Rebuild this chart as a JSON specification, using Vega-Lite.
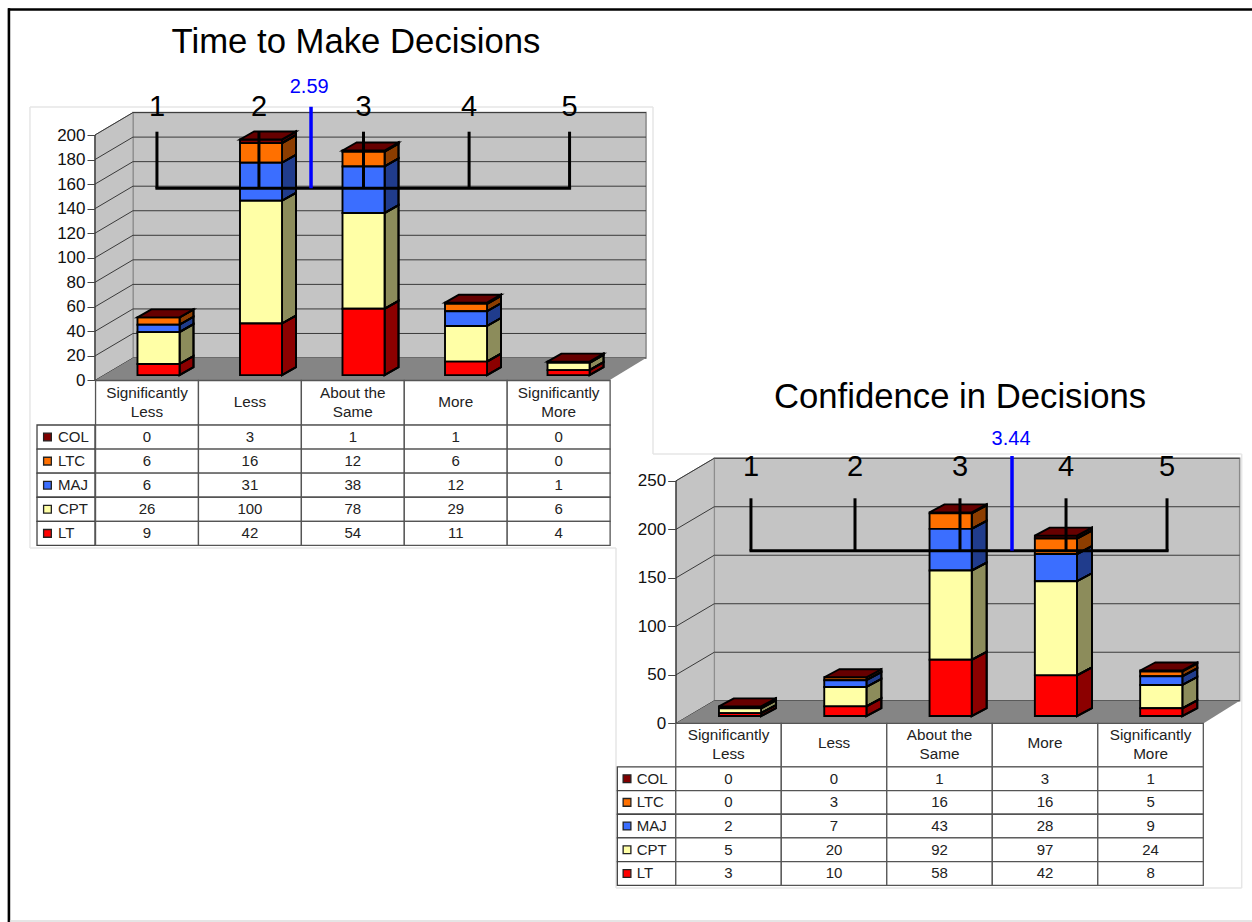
{"$schema":"https://vega.github.io/schema/vega-lite/v6.json","background":"#ffffff","padding":{"left":6,"top":0,"right":0,"bottom":0},"bounds":"flush","spacing":0,
"data":{"values":[{"one":1}]},
"config":{"font":"Liberation Sans","view":{"stroke":null},"axisX":{"disable":true},"axis":{"grid":false,"domain":false,"ticks":false,"labels":false,"titleOpacity":0},"legend":{"disable":true}},
"datasets":{
"depth":[{"t":0},{"t":1}],
"ticksA":[{"v":0},{"v":20},{"v":40},{"v":60},{"v":80},{"v":100},{"v":120},{"v":140},{"v":160},{"v":180},{"v":200}],
"ticksB":[{"v":0},{"v":50},{"v":100},{"v":150},{"v":200},{"v":250}],
"scaleA":[{"label":"1","at":0.985},{"label":"2","at":1.98},{"label":"3","at":3.0},{"label":"4","at":4.03},{"label":"5","at":5.01}],
"scaleB":[{"label":"1","at":1.104},{"label":"2","at":2.092},{"label":"3","at":3.089},{"label":"4","at":4.096},{"label":"5","at":5.055}],
"time":[
{"series":"COL","idx":1,"cat":"Significantly\nLess","value":0},{"series":"COL","idx":2,"cat":"Less","value":3},{"series":"COL","idx":3,"cat":"About the\nSame","value":1},{"series":"COL","idx":4,"cat":"More","value":1},{"series":"COL","idx":5,"cat":"Significantly\nMore","value":0},
{"series":"LTC","idx":1,"cat":"Significantly\nLess","value":6},{"series":"LTC","idx":2,"cat":"Less","value":16},{"series":"LTC","idx":3,"cat":"About the\nSame","value":12},{"series":"LTC","idx":4,"cat":"More","value":6},{"series":"LTC","idx":5,"cat":"Significantly\nMore","value":0},
{"series":"MAJ","idx":1,"cat":"Significantly\nLess","value":6},{"series":"MAJ","idx":2,"cat":"Less","value":31},{"series":"MAJ","idx":3,"cat":"About the\nSame","value":38},{"series":"MAJ","idx":4,"cat":"More","value":12},{"series":"MAJ","idx":5,"cat":"Significantly\nMore","value":1},
{"series":"CPT","idx":1,"cat":"Significantly\nLess","value":26},{"series":"CPT","idx":2,"cat":"Less","value":100},{"series":"CPT","idx":3,"cat":"About the\nSame","value":78},{"series":"CPT","idx":4,"cat":"More","value":29},{"series":"CPT","idx":5,"cat":"Significantly\nMore","value":6},
{"series":"LT","idx":1,"cat":"Significantly\nLess","value":9},{"series":"LT","idx":2,"cat":"Less","value":42},{"series":"LT","idx":3,"cat":"About the\nSame","value":54},{"series":"LT","idx":4,"cat":"More","value":11},{"series":"LT","idx":5,"cat":"Significantly\nMore","value":4}],
"conf":[
{"series":"COL","idx":1,"cat":"Significantly\nLess","value":0},{"series":"COL","idx":2,"cat":"Less","value":0},{"series":"COL","idx":3,"cat":"About the\nSame","value":1},{"series":"COL","idx":4,"cat":"More","value":3},{"series":"COL","idx":5,"cat":"Significantly\nMore","value":1},
{"series":"LTC","idx":1,"cat":"Significantly\nLess","value":0},{"series":"LTC","idx":2,"cat":"Less","value":3},{"series":"LTC","idx":3,"cat":"About the\nSame","value":16},{"series":"LTC","idx":4,"cat":"More","value":16},{"series":"LTC","idx":5,"cat":"Significantly\nMore","value":5},
{"series":"MAJ","idx":1,"cat":"Significantly\nLess","value":2},{"series":"MAJ","idx":2,"cat":"Less","value":7},{"series":"MAJ","idx":3,"cat":"About the\nSame","value":43},{"series":"MAJ","idx":4,"cat":"More","value":28},{"series":"MAJ","idx":5,"cat":"Significantly\nMore","value":9},
{"series":"CPT","idx":1,"cat":"Significantly\nLess","value":5},{"series":"CPT","idx":2,"cat":"Less","value":20},{"series":"CPT","idx":3,"cat":"About the\nSame","value":92},{"series":"CPT","idx":4,"cat":"More","value":97},{"series":"CPT","idx":5,"cat":"Significantly\nMore","value":24},
{"series":"LT","idx":1,"cat":"Significantly\nLess","value":3},{"series":"LT","idx":2,"cat":"Less","value":10},{"series":"LT","idx":3,"cat":"About the\nSame","value":58},{"series":"LT","idx":4,"cat":"More","value":42},{"series":"LT","idx":5,"cat":"Significantly\nMore","value":8}]
},
"hconcat":[
{"width":608,"height":922,
"title":{"text":"Time to Make Decisions","fontSize":34.7,"fontWeight":"normal","color":"#000000","anchor":"middle","frame":"group","offset":-88,"dx":44,"baseline":"alphabetic"},
"layer":[
{"mark":{"type":"rule","stroke":"#000000","strokeWidth":2.6},"encoding":{"x":{"datum":-0.468,"type":"quantitative","scale":{"domain":[-0.468,5.463],"nice":false,"zero":false}},"x2":{"datum":5.463},"y":{"datum":302.2,"type":"quantitative","scale":{"domain":[-441.2,310],"nice":false,"zero":false}}}},
{"mark":{"type":"rule","stroke":"#000000","strokeWidth":2.6},"encoding":{"x":{"datum":-0.459,"type":"quantitative"},"y":{"datum":303.2,"type":"quantitative"},"y2":{"datum":-441.2}}},
{"mark":{"type":"rule","stroke":"#dddddd","strokeWidth":1.5},"encoding":{"x":{"datum":-0.45,"type":"quantitative"},"x2":{"datum":5.463},"y":{"datum":-440.3,"type":"quantitative"}}},
{"mark":{"type":"rule","stroke":"#e6e6e6","strokeWidth":1.5},"encoding":{"x":{"datum":-0.2537,"type":"quantitative"},"y":{"datum":222.8,"type":"quantitative"},"y2":{"datum":-136.5}}},
{"mark":{"type":"rule","stroke":"#e6e6e6","strokeWidth":1.5},"encoding":{"x":{"datum":-0.2537,"type":"quantitative"},"x2":{"datum":5.824},"y":{"datum":222.8,"type":"quantitative"}}},
{"mark":{"type":"rule","stroke":"#e6e6e6","strokeWidth":1.5},"encoding":{"x":{"datum":5.824,"type":"quantitative"},"y":{"datum":222.8,"type":"quantitative"},"y2":{"datum":-59.9}}},
{"mark":{"type":"rule","stroke":"#e6e6e6","strokeWidth":1.5},"encoding":{"x":{"datum":-0.2537,"type":"quantitative"},"x2":{"datum":5.463},"y":{"datum":-136.5,"type":"quantitative"}}},
{"mark":{"type":"rect","fill":"#c4c4c4","stroke":"#8a8a8a","strokeWidth":1.5},"encoding":{"x":{"datum":0.7512,"type":"quantitative"},"x2":{"datum":5.756},"y":{"datum":18.3,"type":"quantitative"},"y2":{"datum":218.3}}},
{"data":{"name":"depth"},"transform":[{"calculate":"0.3805+datum.t*0.371","as":"wx"},{"calculate":"datum.t*18.3","as":"wy"},{"calculate":"200+datum.t*18.3","as":"wy2"}],"mark":{"type":"area","orient":"vertical","fill":"#c4c4c4","stroke":"#8a8a8a","strokeWidth":1},"encoding":{"x":{"field":"wx","type":"quantitative"},"y":{"field":"wy","type":"quantitative"},"y2":{"field":"wy2"}}},
{"data":{"name":"ticksA"},"transform":[{"calculate":"datum.v+18.3","as":"vb"}],"mark":{"type":"rule","stroke":"#3a3a3a","strokeWidth":1},"encoding":{"x":{"datum":0.7512,"type":"quantitative"},"x2":{"datum":5.756},"y":{"field":"vb","type":"quantitative"}}},
{"data":{"name":"ticksA"},"transform":[{"calculate":"datum.v+18.3","as":"vb"}],"mark":{"type":"rule","stroke":"#3a3a3a","strokeWidth":1},"encoding":{"x":{"datum":0.3805,"type":"quantitative"},"x2":{"datum":0.7512},"y":{"field":"v","type":"quantitative","axis":{"orient":"left","values":[0,20,40,60,80,100,120,140,160,180,200],"title":null,"grid":false,"domain":false,"ticks":true,"labels":true,"offset":-87,"tickSize":8,"tickColor":"#444444","labelFontSize":17,"labelColor":"#111111","labelPadding":2,"labelOverlap":false,"labelBound":false,"labelFlush":false}},"y2":{"field":"vb"}}},
{"data":{"name":"depth"},"transform":[{"calculate":"datum.t*18.3","as":"fy"},{"calculate":"0.3805+datum.t*0.371","as":"fx"},{"calculate":"5.395+datum.t*0.361","as":"fx2"}],"mark":{"type":"area","orient":"horizontal","fill":"#858585"},"encoding":{"y":{"field":"fy","type":"quantitative"},"x":{"field":"fx","type":"quantitative"},"x2":{"field":"fx2"}}},
{"mark":{"type":"rule","stroke":"#333333","strokeWidth":1.3},"encoding":{"x":{"datum":0.3805,"type":"quantitative"},"y":{"datum":0,"type":"quantitative"},"y2":{"datum":200}}},
{"data":{"name":"time"},"transform":[{"calculate":"indexof(['LT','CPT','MAJ','LTC','COL'],datum.series)","as":"r"},{"stack":"value","groupby":["idx"],"sort":[{"field":"r","order":"ascending"}],"as":["s0","s1"]},{"calculate":"datum.s0+4.4","as":"b0"},{"calculate":"datum.s1+4.4","as":"b1"},{"calculate":"datum.idx+0.205","as":"xr"},{"calculate":"[0,1]","as":"t"},{"flatten":["t"]},{"calculate":"datum.xr+datum.t*0.1366","as":"sx"},{"calculate":"datum.b0+datum.t*6.5","as":"sy"},{"calculate":"datum.b1+datum.t*6.5","as":"sy2"}],"mark":{"type":"area","orient":"vertical","stroke":"#000000","strokeWidth":1.9,"opacity":1},"encoding":{"x":{"field":"sx","type":"quantitative"},"y":{"field":"sy","type":"quantitative"},"y2":{"field":"sy2"},"detail":{"field":"idx"},"color":{"field":"series","type":"nominal","scale":{"domain":["LT","CPT","MAJ","LTC","COL"],"range":["#ff0000","#ffffa6","#3b6eff","#ff7000","#800000"]}}}},
{"data":{"name":"time"},"transform":[{"calculate":"indexof(['LT','CPT','MAJ','LTC','COL'],datum.series)","as":"r"},{"stack":"value","groupby":["idx"],"sort":[{"field":"r","order":"ascending"}],"as":["s0","s1"]},{"calculate":"datum.s0+4.4","as":"b0"},{"calculate":"datum.s1+4.4","as":"b1"},{"calculate":"datum.idx+0.205","as":"xr"},{"calculate":"[0,1]","as":"t"},{"flatten":["t"]},{"calculate":"datum.xr+datum.t*0.1366","as":"sx"},{"calculate":"datum.b0+datum.t*6.5","as":"sy"},{"calculate":"datum.b1+datum.t*6.5","as":"sy2"}],"mark":{"type":"area","orient":"vertical","fill":"#000000","fillOpacity":0.45,"stroke":"#000000","strokeWidth":1.9},"encoding":{"x":{"field":"sx","type":"quantitative"},"y":{"field":"sy","type":"quantitative"},"y2":{"field":"sy2"},"detail":[{"field":"idx"},{"field":"series"}]}},
{"data":{"name":"time"},"transform":[{"calculate":"indexof(['LT','CPT','MAJ','LTC','COL'],datum.series)","as":"r"},{"stack":"value","groupby":["idx"],"sort":[{"field":"r","order":"ascending"}],"as":["s0","s1"]},{"calculate":"datum.s0+4.4","as":"b0"},{"calculate":"datum.s1+4.4","as":"b1"},{"calculate":"datum.idx-0.205","as":"xl"},{"calculate":"datum.idx+0.205","as":"xr"}],"mark":{"type":"rect","stroke":"#000000","strokeWidth":1.9},"encoding":{"x":{"field":"xl","type":"quantitative"},"x2":{"field":"xr"},"y":{"field":"b0","type":"quantitative"},"y2":{"field":"b1"},"color":{"field":"series","type":"nominal","scale":{"domain":["LT","CPT","MAJ","LTC","COL"],"range":["#ff0000","#ffffa6","#3b6eff","#ff7000","#800000"]}}}},
{"data":{"name":"time"},"transform":[{"calculate":"indexof(['LT','CPT','MAJ','LTC','COL'],datum.series)","as":"r"},{"stack":"value","groupby":["idx"],"sort":[{"field":"r","order":"ascending"}],"as":["s0","s1"]},{"filter":"datum.series=='COL'"},{"calculate":"[0,1]","as":"t"},{"flatten":["t"]},{"calculate":"datum.s1+4.4+datum.t*6.5","as":"ty"},{"calculate":"datum.idx-0.205+datum.t*0.1366","as":"tx"},{"calculate":"datum.idx+0.205+datum.t*0.1366","as":"tx2"}],"mark":{"type":"area","orient":"horizontal","fill":"#660000","stroke":"#000000","strokeWidth":1.9},"encoding":{"y":{"field":"ty","type":"quantitative"},"x":{"field":"tx","type":"quantitative"},"x2":{"field":"tx2"},"detail":{"field":"idx"}}},
{"mark":{"type":"rule","stroke":"#000000","strokeWidth":3},"encoding":{"x":{"datum":0.97,"type":"quantitative"},"x2":{"datum":5.025},"y":{"datum":156.6,"type":"quantitative"}}},
{"data":{"name":"scaleA"},"mark":{"type":"rule","stroke":"#000000","strokeWidth":3},"encoding":{"x":{"field":"at","type":"quantitative"},"y":{"datum":156.6,"type":"quantitative"},"y2":{"datum":202.7}}},
{"data":{"name":"scaleA"},"mark":{"type":"text","fontSize":29,"color":"#000000","baseline":"middle"},"encoding":{"x":{"field":"at","type":"quantitative"},"y":{"datum":222.8,"type":"quantitative"},"text":{"field":"label"}}},
{"mark":{"type":"rule","stroke":"#0000ff","strokeWidth":3.5},"encoding":{"x":{"datum":2.488,"type":"quantitative"},"y":{"datum":156.6,"type":"quantitative"},"y2":{"datum":223}}},
{"mark":{"type":"text","text":"2.59","fontSize":20,"color":"#0000ff","baseline":"middle"},"encoding":{"x":{"datum":2.47,"type":"quantitative"},"y":{"datum":239,"type":"quantitative"}}},
{"data":{"name":"time"},"transform":[{"filter":"datum.series=='LT'"},{"calculate":"0.888+(datum.idx-1)*1.0039","as":"tc"},{"calculate":"datum.tc-0.502","as":"tl"},{"calculate":"datum.tc+0.502","as":"tr"}],"mark":{"type":"rect","fill":"#ffffff","stroke":"#555555","strokeWidth":1.3},"encoding":{"x":{"field":"tl","type":"quantitative"},"x2":{"field":"tr"},"y":{"datum":-36.5,"type":"quantitative"},"y2":{"datum":0}}},
{"data":{"name":"time"},"transform":[{"filter":"datum.series=='LT'"},{"calculate":"0.888+(datum.idx-1)*1.0039","as":"tc"},{"calculate":"test(/\\n/,datum.cat)?-10.2:-17.5","as":"hy"}],"mark":{"type":"text","fontSize":15.3,"color":"#222222","baseline":"middle","lineBreak":"\n","lineHeight":19},"encoding":{"x":{"field":"tc","type":"quantitative"},"y":{"field":"hy","type":"quantitative"},"text":{"field":"cat"}}},
{"data":{"name":"time"},"transform":[{"filter":"datum.idx==1"},{"calculate":"indexof(['LT','CPT','MAJ','LTC','COL'],datum.series)","as":"r"},{"calculate":"-134.4+datum.r*19.63","as":"y0"},{"calculate":"datum.y0+19.63","as":"y1"}],"mark":{"type":"rect","fill":"#ffffff","stroke":"#444444","strokeWidth":1.3},"encoding":{"x":{"datum":-0.185,"type":"quantitative"},"x2":{"datum":0.3805},"y":{"field":"y0","type":"quantitative"},"y2":{"field":"y1"}}},
{"data":{"name":"time"},"transform":[{"calculate":"indexof(['LT','CPT','MAJ','LTC','COL'],datum.series)","as":"r"},{"calculate":"-134.4+datum.r*19.63","as":"y0"},{"calculate":"datum.y0+19.63","as":"y1"},{"calculate":"0.888+(datum.idx-1)*1.0039","as":"tc"},{"calculate":"datum.tc-0.502","as":"tl"},{"calculate":"datum.tc+0.502","as":"tr"}],"mark":{"type":"rect","fill":"#ffffff","stroke":"#555555","strokeWidth":1.3},"encoding":{"x":{"field":"tl","type":"quantitative"},"x2":{"field":"tr"},"y":{"field":"y0","type":"quantitative"},"y2":{"field":"y1"}}},
{"data":{"name":"time"},"transform":[{"calculate":"indexof(['LT','CPT','MAJ','LTC','COL'],datum.series)","as":"r"},{"calculate":"-134.4+(datum.r+0.5)*19.63","as":"ym"},{"calculate":"0.888+(datum.idx-1)*1.0039","as":"tc"}],"mark":{"type":"text","fontSize":15,"color":"#222222","baseline":"middle"},"encoding":{"x":{"field":"tc","type":"quantitative"},"y":{"field":"ym","type":"quantitative"},"text":{"field":"value","type":"quantitative"}}},
{"data":{"name":"time"},"transform":[{"filter":"datum.idx==1"},{"calculate":"indexof(['LT','CPT','MAJ','LTC','COL'],datum.series)","as":"r"},{"calculate":"-134.4+(datum.r+0.5)*19.63","as":"ym"}],"mark":{"type":"square","size":60,"filled":true,"opacity":1,"stroke":"#222222","strokeWidth":1.3},"encoding":{"x":{"datum":-0.083,"type":"quantitative"},"y":{"field":"ym","type":"quantitative"},"color":{"field":"series","type":"nominal","scale":{"domain":["LT","CPT","MAJ","LTC","COL"],"range":["#ff0000","#ffffa6","#3b6eff","#ff7000","#800000"]}}}},
{"data":{"name":"time"},"transform":[{"filter":"datum.idx==1"},{"calculate":"indexof(['LT','CPT','MAJ','LTC','COL'],datum.series)","as":"r"},{"calculate":"-134.4+(datum.r+0.5)*19.63","as":"ym"}],"mark":{"type":"text","fontSize":15,"color":"#222222","baseline":"middle","align":"left"},"encoding":{"x":{"datum":0.0195,"type":"quantitative"},"y":{"field":"ym","type":"quantitative"},"text":{"field":"series"}}}
]},
{"width":636,"height":922,
"title":{"text":"Confidence in Decisions","fontSize":34.7,"fontWeight":"normal","color":"#000000","anchor":"middle","frame":"group","offset":-443,"dx":26,"baseline":"alphabetic"},
"layer":[
{"mark":{"type":"rule","stroke":"#000000","strokeWidth":2.6},"encoding":{"x":{"datum":-0.1776,"type":"quantitative","scale":{"domain":[-0.1776,5.862],"nice":false,"zero":false}},"x2":{"datum":5.862},"y":{"datum":735.9,"type":"quantitative","scale":{"domain":[-204.8,745.7],"nice":false,"zero":false}}}},
{"mark":{"type":"rule","stroke":"#dddddd","strokeWidth":1.5},"encoding":{"x":{"datum":-0.1776,"type":"quantitative"},"x2":{"datum":5.862},"y":{"datum":-203.8,"type":"quantitative"}}},
{"mark":{"type":"rule","stroke":"#e6e6e6","strokeWidth":1.5},"encoding":{"x":{"datum":-0.1776,"type":"quantitative"},"y":{"datum":180.7,"type":"quantitative"},"y2":{"datum":-169.8}}},
{"mark":{"type":"rule","stroke":"#e6e6e6","strokeWidth":1.5},"encoding":{"x":{"datum":0.1738,"type":"quantitative"},"x2":{"datum":5.764},"y":{"datum":277.6,"type":"quantitative"}}},
{"mark":{"type":"rule","stroke":"#e6e6e6","strokeWidth":1.5},"encoding":{"x":{"datum":5.764,"type":"quantitative"},"y":{"datum":277.6,"type":"quantitative"},"y2":{"datum":-169.8}}},
{"mark":{"type":"rule","stroke":"#e6e6e6","strokeWidth":1.5},"encoding":{"x":{"datum":-0.1776,"type":"quantitative"},"x2":{"datum":5.764},"y":{"datum":-169.8,"type":"quantitative"}}},
{"mark":{"type":"rect","fill":"#c4c4c4","stroke":"#8a8a8a","strokeWidth":1.5},"encoding":{"x":{"datum":0.7557,"type":"quantitative"},"x2":{"datum":5.745},"y":{"datum":23.3,"type":"quantitative"},"y2":{"datum":273.3}}},
{"data":{"name":"depth"},"transform":[{"calculate":"0.3923+datum.t*0.3634","as":"wx"},{"calculate":"datum.t*23.3","as":"wy"},{"calculate":"250+datum.t*23.3","as":"wy2"}],"mark":{"type":"area","orient":"vertical","fill":"#c4c4c4","stroke":"#8a8a8a","strokeWidth":1},"encoding":{"x":{"field":"wx","type":"quantitative"},"y":{"field":"wy","type":"quantitative"},"y2":{"field":"wy2"}}},
{"data":{"name":"ticksB"},"transform":[{"calculate":"datum.v+23.3","as":"vb"}],"mark":{"type":"rule","stroke":"#3a3a3a","strokeWidth":1},"encoding":{"x":{"datum":0.7557,"type":"quantitative"},"x2":{"datum":5.745},"y":{"field":"vb","type":"quantitative"}}},
{"data":{"name":"ticksB"},"transform":[{"calculate":"datum.v+23.3","as":"vb"}],"mark":{"type":"rule","stroke":"#3a3a3a","strokeWidth":1},"encoding":{"x":{"datum":0.3923,"type":"quantitative"},"x2":{"datum":0.7557},"y":{"field":"v","type":"quantitative","axis":{"orient":"left","values":[0,50,100,150,200,250],"title":null,"grid":false,"domain":false,"ticks":true,"labels":true,"offset":-59.7,"tickSize":8,"tickColor":"#444444","labelFontSize":17,"labelColor":"#111111","labelPadding":2,"labelOverlap":false,"labelBound":false,"labelFlush":false}},"y2":{"field":"vb"}}},
{"data":{"name":"depth"},"transform":[{"calculate":"datum.t*23.3","as":"fy"},{"calculate":"0.3923+datum.t*0.3634","as":"fx"},{"calculate":"5.403+datum.t*0.342","as":"fx2"}],"mark":{"type":"area","orient":"horizontal","fill":"#858585"},"encoding":{"y":{"field":"fy","type":"quantitative"},"x":{"field":"fx","type":"quantitative"},"x2":{"field":"fx2"}}},
{"mark":{"type":"rule","stroke":"#333333","strokeWidth":1.3},"encoding":{"x":{"datum":0.3923,"type":"quantitative"},"y":{"datum":0,"type":"quantitative"},"y2":{"datum":250}}},
{"data":{"name":"conf"},"transform":[{"calculate":"indexof(['LT','CPT','MAJ','LTC','COL'],datum.series)","as":"r"},{"stack":"value","groupby":["idx"],"sort":[{"field":"r","order":"ascending"}],"as":["s0","s1"]},{"calculate":"datum.s0+7.5","as":"b0"},{"calculate":"datum.s1+7.5","as":"b1"},{"calculate":"datum.idx+0.2","as":"xr"},{"calculate":"[0,1]","as":"t"},{"flatten":["t"]},{"calculate":"datum.xr+datum.t*0.1424","as":"sx"},{"calculate":"datum.b0+datum.t*8.25","as":"sy"},{"calculate":"datum.b1+datum.t*8.25","as":"sy2"}],"mark":{"type":"area","orient":"vertical","stroke":"#000000","strokeWidth":1.9,"opacity":1},"encoding":{"x":{"field":"sx","type":"quantitative"},"y":{"field":"sy","type":"quantitative"},"y2":{"field":"sy2"},"detail":{"field":"idx"},"color":{"field":"series","type":"nominal","scale":{"domain":["LT","CPT","MAJ","LTC","COL"],"range":["#ff0000","#ffffa6","#3b6eff","#ff7000","#800000"]}}}},
{"data":{"name":"conf"},"transform":[{"calculate":"indexof(['LT','CPT','MAJ','LTC','COL'],datum.series)","as":"r"},{"stack":"value","groupby":["idx"],"sort":[{"field":"r","order":"ascending"}],"as":["s0","s1"]},{"calculate":"datum.s0+7.5","as":"b0"},{"calculate":"datum.s1+7.5","as":"b1"},{"calculate":"datum.idx+0.2","as":"xr"},{"calculate":"[0,1]","as":"t"},{"flatten":["t"]},{"calculate":"datum.xr+datum.t*0.1424","as":"sx"},{"calculate":"datum.b0+datum.t*8.25","as":"sy"},{"calculate":"datum.b1+datum.t*8.25","as":"sy2"}],"mark":{"type":"area","orient":"vertical","fill":"#000000","fillOpacity":0.45,"stroke":"#000000","strokeWidth":1.9},"encoding":{"x":{"field":"sx","type":"quantitative"},"y":{"field":"sy","type":"quantitative"},"y2":{"field":"sy2"},"detail":[{"field":"idx"},{"field":"series"}]}},
{"data":{"name":"conf"},"transform":[{"calculate":"indexof(['LT','CPT','MAJ','LTC','COL'],datum.series)","as":"r"},{"stack":"value","groupby":["idx"],"sort":[{"field":"r","order":"ascending"}],"as":["s0","s1"]},{"calculate":"datum.s0+7.5","as":"b0"},{"calculate":"datum.s1+7.5","as":"b1"},{"calculate":"datum.idx-0.2","as":"xl"},{"calculate":"datum.idx+0.2","as":"xr"}],"mark":{"type":"rect","stroke":"#000000","strokeWidth":1.9},"encoding":{"x":{"field":"xl","type":"quantitative"},"x2":{"field":"xr"},"y":{"field":"b0","type":"quantitative"},"y2":{"field":"b1"},"color":{"field":"series","type":"nominal","scale":{"domain":["LT","CPT","MAJ","LTC","COL"],"range":["#ff0000","#ffffa6","#3b6eff","#ff7000","#800000"]}}}},
{"data":{"name":"conf"},"transform":[{"calculate":"indexof(['LT','CPT','MAJ','LTC','COL'],datum.series)","as":"r"},{"stack":"value","groupby":["idx"],"sort":[{"field":"r","order":"ascending"}],"as":["s0","s1"]},{"filter":"datum.series=='COL'"},{"calculate":"[0,1]","as":"t"},{"flatten":["t"]},{"calculate":"datum.s1+7.5+datum.t*8.25","as":"ty"},{"calculate":"datum.idx-0.2+datum.t*0.1424","as":"tx"},{"calculate":"datum.idx+0.2+datum.t*0.1424","as":"tx2"}],"mark":{"type":"area","orient":"horizontal","fill":"#660000","stroke":"#000000","strokeWidth":1.9},"encoding":{"y":{"field":"ty","type":"quantitative"},"x":{"field":"tx","type":"quantitative"},"x2":{"field":"tx2"},"detail":{"field":"idx"}}},
{"mark":{"type":"rule","stroke":"#000000","strokeWidth":3},"encoding":{"x":{"datum":1.09,"type":"quantitative"},"x2":{"datum":5.07},"y":{"datum":178,"type":"quantitative"}}},
{"data":{"name":"scaleB"},"mark":{"type":"rule","stroke":"#000000","strokeWidth":3},"encoding":{"x":{"field":"at","type":"quantitative"},"y":{"datum":178,"type":"quantitative"},"y2":{"datum":232}}},
{"data":{"name":"scaleB"},"mark":{"type":"text","fontSize":29,"color":"#000000","baseline":"middle"},"encoding":{"x":{"field":"at","type":"quantitative"},"y":{"datum":264.5,"type":"quantitative"},"text":{"field":"label"}}},
{"mark":{"type":"rule","stroke":"#0000ff","strokeWidth":3.5},"encoding":{"x":{"datum":3.583,"type":"quantitative"},"y":{"datum":178,"type":"quantitative"},"y2":{"datum":275.6}}},
{"mark":{"type":"text","text":"3.44","fontSize":20,"color":"#0000ff","baseline":"middle"},"encoding":{"x":{"datum":3.574,"type":"quantitative"},"y":{"datum":292.7,"type":"quantitative"}}},
{"data":{"name":"conf"},"transform":[{"filter":"datum.series=='LT'"},{"calculate":"0.891+(datum.idx-1)*1.0019","as":"tc"},{"calculate":"datum.tc-0.501","as":"tl"},{"calculate":"datum.tc+0.501","as":"tr"}],"mark":{"type":"rect","fill":"#ffffff","stroke":"#555555","strokeWidth":1.3},"encoding":{"x":{"field":"tl","type":"quantitative"},"x2":{"field":"tr"},"y":{"datum":-44.85,"type":"quantitative"},"y2":{"datum":0}}},
{"data":{"name":"conf"},"transform":[{"filter":"datum.series=='LT'"},{"calculate":"0.891+(datum.idx-1)*1.0019","as":"tc"},{"calculate":"test(/\\n/,datum.cat)?-12.1:-20","as":"hy"}],"mark":{"type":"text","fontSize":15.3,"color":"#222222","baseline":"middle","lineBreak":"\n","lineHeight":19},"encoding":{"x":{"field":"tc","type":"quantitative"},"y":{"field":"hy","type":"quantitative"},"text":{"field":"cat"}}},
{"data":{"name":"conf"},"transform":[{"filter":"datum.idx==1"},{"calculate":"indexof(['LT','CPT','MAJ','LTC','COL'],datum.series)","as":"r"},{"calculate":"-167+datum.r*24.43","as":"y0"},{"calculate":"datum.y0+24.43","as":"y1"}],"mark":{"type":"rect","fill":"#ffffff","stroke":"#444444","strokeWidth":1.3},"encoding":{"x":{"datum":-0.165,"type":"quantitative"},"x2":{"datum":0.3923},"y":{"field":"y0","type":"quantitative"},"y2":{"field":"y1"}}},
{"data":{"name":"conf"},"transform":[{"calculate":"indexof(['LT','CPT','MAJ','LTC','COL'],datum.series)","as":"r"},{"calculate":"-167+datum.r*24.43","as":"y0"},{"calculate":"datum.y0+24.43","as":"y1"},{"calculate":"0.891+(datum.idx-1)*1.0019","as":"tc"},{"calculate":"datum.tc-0.501","as":"tl"},{"calculate":"datum.tc+0.501","as":"tr"}],"mark":{"type":"rect","fill":"#ffffff","stroke":"#555555","strokeWidth":1.3},"encoding":{"x":{"field":"tl","type":"quantitative"},"x2":{"field":"tr"},"y":{"field":"y0","type":"quantitative"},"y2":{"field":"y1"}}},
{"data":{"name":"conf"},"transform":[{"calculate":"indexof(['LT','CPT','MAJ','LTC','COL'],datum.series)","as":"r"},{"calculate":"-167+(datum.r+0.5)*24.43","as":"ym"},{"calculate":"0.891+(datum.idx-1)*1.0019","as":"tc"}],"mark":{"type":"text","fontSize":15,"color":"#222222","baseline":"middle"},"encoding":{"x":{"field":"tc","type":"quantitative"},"y":{"field":"ym","type":"quantitative"},"text":{"field":"value","type":"quantitative"}}},
{"data":{"name":"conf"},"transform":[{"filter":"datum.idx==1"},{"calculate":"indexof(['LT','CPT','MAJ','LTC','COL'],datum.series)","as":"r"},{"calculate":"-167+(datum.r+0.5)*24.43","as":"ym"}],"mark":{"type":"square","size":60,"filled":true,"opacity":1,"stroke":"#222222","strokeWidth":1.3},"encoding":{"x":{"datum":-0.073,"type":"quantitative"},"y":{"field":"ym","type":"quantitative"},"color":{"field":"series","type":"nominal","scale":{"domain":["LT","CPT","MAJ","LTC","COL"],"range":["#ff0000","#ffffa6","#3b6eff","#ff7000","#800000"]}}}},
{"data":{"name":"conf"},"transform":[{"filter":"datum.idx==1"},{"calculate":"indexof(['LT','CPT','MAJ','LTC','COL'],datum.series)","as":"r"},{"calculate":"-167+(datum.r+0.5)*24.43","as":"ym"}],"mark":{"type":"text","fontSize":15,"color":"#222222","baseline":"middle","align":"left"},"encoding":{"x":{"datum":0.019,"type":"quantitative"},"y":{"field":"ym","type":"quantitative"},"text":{"field":"series"}}}
]}
]}
